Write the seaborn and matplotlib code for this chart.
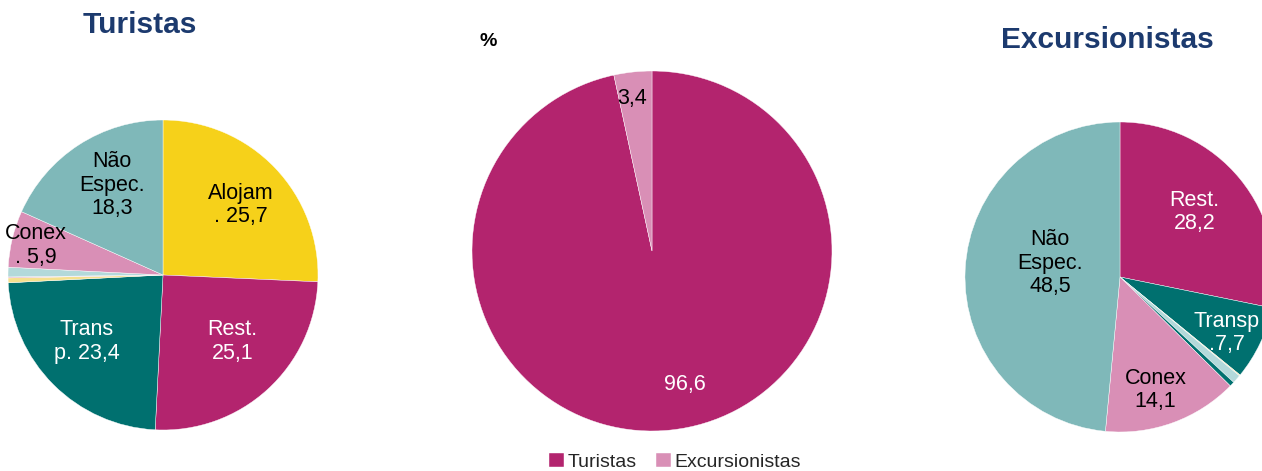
import matplotlib
matplotlib.use("Agg")
import matplotlib.pyplot as plt
import seaborn as sns

sns.set_theme(style="white")
plt.rcParams["font.family"] = ["Liberation Sans", "DejaVu Sans"]

# Spending structure by category (%)
tur_categories = ["Alojam.", "Rest.", "Transp.", "Cultura", "Lazer", "Outros", "Conex.", "Não Espec."]
tur_values = [25.7, 25.1, 23.4, 0.5, 0.1, 1.0, 5.9, 18.3]
tur_label_names = ["Alojam\n. ", "Rest.\n", "Trans\np. ", None, None, None, "Conex\n. ", "Não\nEspec.\n"]

exc_categories = ["Rest.", "Transp.", "Cultura", "Outros", "Transp. Outro", "Conex.", "Não Espec."]
exc_values = [28.2, 7.7, 0.1, 0.9, 0.5, 14.1, 48.5]
exc_label_names = ["Rest.\n", "Transp\n.", None, None, None, "Conex\n", "Não\nEspec.\n"]

# Split between visitor types (%)
visitor_types = ["Turistas", "Excursionistas"]
visitor_values = [96.6, 3.4]

cat_colors = {
    "Alojam.": "#F6D11A",
    "Rest.": "#B3246E",
    "Transp.": "#00706F",
    "Cultura": "#F5E08E",
    "Lazer": "#D98FB6",
    "Outros": "#B3D9DA",
    "Transp. Outro": "#00706F",
    "Conex.": "#D98FB6",
    "Não Espec.": "#7FB8B9",
}
visitor_colors = ["#B3246E", "#D98FB6"]
title_color = "#1C3A6E"

W, H = 1262, 471
fig = plt.figure(figsize=(W / 100, H / 100), dpi=100)


def pie_axes(cx, cy, r):
    ax = fig.add_axes([(cx - r) / W, 1 - (cy + r) / H, 2 * r / W, 2 * r / H])
    ax.set_xlim(-1, 1)
    ax.set_ylim(-1, 1)
    ax.set_axis_off()
    return ax


def fmt(v):
    return f"{v:.1f}".replace(".", ",")


wedge_style = dict(linewidth=0.3, edgecolor="white")
label_fs = 15.5
line_sp = 1.15

# Turistas
ax1 = pie_axes(163, 275, 155)
ax1.pie(tur_values, colors=[cat_colors[c] for c in tur_categories], startangle=90,
        counterclock=False, radius=1, wedgeprops=wedge_style, frame=False)
ax1.set_xlim(-1, 1)
ax1.set_ylim(-1, 1)
tur_pos = [(0.50, 0.45, "black"), (0.45, -0.43, "white"), (-0.49, -0.43, "white"),
           None, None, None, (-0.82, 0.19, "black"), (-0.33, 0.58, "black")]
for name, v, p in zip(tur_label_names, tur_values, tur_pos):
    if name is None:
        continue
    ax1.text(p[0], p[1], name + fmt(v), ha="center", va="center", color=p[2],
             fontsize=label_fs, linespacing=line_sp)

# Visitor split
ax2 = pie_axes(652, 251, 180)
wedges, _ = ax2.pie(visitor_values, colors=visitor_colors, startangle=90,
                    counterclock=False, radius=1, wedgeprops=wedge_style, frame=False)
ax2.set_xlim(-1, 1)
ax2.set_ylim(-1, 1)
vis_pos = [(0.18, -0.74, "white"), (-0.11, 0.85, "black")]
for v, p in zip(visitor_values, vis_pos):
    ax2.text(p[0], p[1], fmt(v), ha="center", va="center", color=p[2], fontsize=label_fs)

# Excursionistas
ax3 = pie_axes(1120, 277, 155)
ax3.pie(exc_values, colors=[cat_colors[c] for c in exc_categories], startangle=90,
        counterclock=False, radius=1, wedgeprops=wedge_style, frame=False)
ax3.set_xlim(-1, 1)
ax3.set_ylim(-1, 1)
exc_pos = [(0.48, 0.42, "white"), (0.69, -0.36, "white"), None, None, None,
           (0.23, -0.73, "black"), (-0.45, 0.09, "black")]
for name, v, p in zip(exc_label_names, exc_values, exc_pos):
    if name is None:
        continue
    ax3.text(p[0], p[1], name + fmt(v), ha="center", va="center", color=p[2],
             fontsize=label_fs, linespacing=line_sp)

# Titles and unit
fig.text(140 / W, 1 - 25 / H, "Turistas", ha="center", va="center", fontsize=21.5,
         fontweight="bold", color=title_color)
fig.text(1107 / W, 1 - 40 / H, "Excursionistas", ha="center", va="center", fontsize=21.5,
         fontweight="bold", color=title_color)
fig.text(488 / W, 1 - 42 / H, "%", ha="center", va="center", fontsize=14,
         fontweight="bold", color="black")

fig.legend(wedges, visitor_types, loc="center", bbox_to_anchor=(675 / W, 1 - 462 / H),
           ncol=2, frameon=False, fontsize=14, handlelength=0.75, handleheight=0.75,
           handletextpad=0.2, columnspacing=1.0, borderaxespad=0)

fig.savefig("out.png", dpi=100)
